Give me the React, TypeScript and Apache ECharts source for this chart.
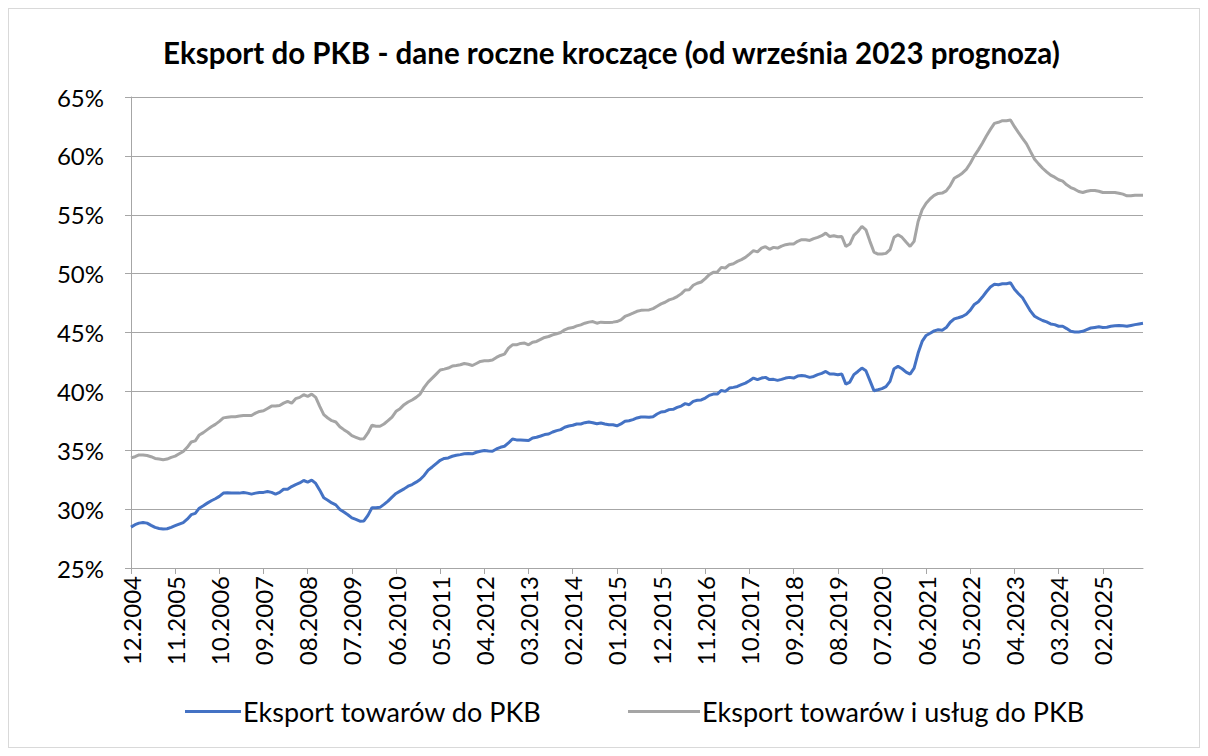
import React, { useEffect, useRef } from "react";
import * as echarts from "echarts";

// Monthly categories from 12.2004 to 12.2025
const START_YEAR = 2004;
const START_MONTH = 12;
const N_MONTHS = 253;
const categories: string[] = [];
for (let i = 0; i < N_MONTHS; i++) {
  const m0 = START_MONTH - 1 + i;
  const m = (m0 % 12) + 1;
  const y = START_YEAR + Math.floor(m0 / 12);
  categories.push(String(m).padStart(2, "0") + "." + y);
}

const seriesNames = ["Eksport towarów do PKB", "Eksport towarów i usług do PKB"];

// Eksport towarów do PKB (%)
const goods = [
  28.47, 28.68, 28.81, 28.86, 28.81, 28.62, 28.45, 28.36, 28.31, 28.33,
  28.45, 28.59, 28.73, 28.86, 29.15, 29.53, 29.64, 30.08, 30.29, 30.51,
  30.71, 30.88, 31.08, 31.36, 31.4, 31.36, 31.36, 31.36, 31.42, 31.36,
  31.27, 31.36, 31.42, 31.42, 31.5, 31.42, 31.27, 31.42, 31.69, 31.69,
  31.92, 32.08, 32.22, 32.43, 32.29, 32.46, 32.18, 31.61, 30.96, 30.76,
  30.53, 30.36, 29.97, 29.75, 29.52, 29.26, 29.13, 28.98, 29.0, 29.47,
  30.11, 30.11, 30.15, 30.4, 30.68, 31.02, 31.33, 31.53, 31.72, 31.95,
  32.09, 32.29, 32.52, 32.86, 33.31, 33.58, 33.87, 34.15, 34.3, 34.35,
  34.49, 34.57, 34.63, 34.7, 34.73, 34.7, 34.83, 34.92, 34.97, 34.94,
  34.92, 35.11, 35.25, 35.34, 35.62, 35.96, 35.88, 35.88, 35.85, 35.82,
  36.04, 36.1, 36.21, 36.33, 36.38, 36.55, 36.67, 36.75, 36.95, 37.06,
  37.12, 37.23, 37.23, 37.34, 37.4, 37.34, 37.25, 37.31, 37.23, 37.17,
  37.17, 37.08, 37.23, 37.46, 37.51, 37.6, 37.74, 37.82, 37.82, 37.8,
  37.85, 38.08, 38.25, 38.3, 38.45, 38.48, 38.64, 38.75, 38.96, 38.87,
  39.15, 39.24, 39.27, 39.43, 39.66, 39.77, 39.77, 40.08, 40.0, 40.28,
  40.34, 40.42, 40.57, 40.7, 40.9, 41.13, 41.0, 41.13, 41.19, 41.0,
  41.02, 40.93, 41.02, 41.13, 41.19, 41.13, 41.3, 41.35, 41.3, 41.19,
  41.27, 41.42, 41.53, 41.69, 41.47, 41.47, 41.42, 41.47, 40.62, 40.79,
  41.42, 41.69, 41.98, 41.75, 40.91, 40.06, 40.14, 40.23, 40.4, 40.85,
  41.92, 42.12, 41.92, 41.64, 41.47, 41.98, 43.25, 44.24, 44.75, 44.94,
  45.14, 45.23, 45.2, 45.42, 45.87, 46.16, 46.25, 46.36, 46.55, 46.9,
  47.38, 47.61, 48.01, 48.46, 48.86, 49.09, 49.05, 49.14, 49.14, 49.23,
  48.67, 48.29, 47.95, 47.38, 46.81, 46.38, 46.19, 46.02, 45.9, 45.73,
  45.67, 45.53, 45.53, 45.33, 45.1, 45.05, 45.05, 45.1, 45.25, 45.38,
  45.43, 45.48, 45.43, 45.45, 45.53, 45.57, 45.6, 45.57, 45.53, 45.6,
  45.67, 45.73, 45.78,
];

// Eksport towarów i usług do PKB (%)
const goodsServices = [
  34.35, 34.45, 34.6, 34.6, 34.55, 34.45, 34.3, 34.25, 34.2, 34.25,
  34.4, 34.5, 34.7, 34.9, 35.25, 35.7, 35.8, 36.3, 36.5, 36.75,
  37.0, 37.2, 37.45, 37.75, 37.8, 37.85, 37.85, 37.9, 37.95, 37.95,
  37.95, 38.15, 38.3, 38.35, 38.55, 38.75, 38.75, 38.8, 39.0, 39.15,
  39.0, 39.38, 39.49, 39.72, 39.58, 39.77, 39.49, 38.73, 38.02, 37.74,
  37.51, 37.4, 37.0, 36.75, 36.53, 36.24, 36.1, 35.96, 35.98, 36.47,
  37.12, 37.04, 37.04, 37.23, 37.51, 37.82, 38.31, 38.53, 38.87, 39.1,
  39.27, 39.49, 39.77, 40.34, 40.79, 41.13, 41.47, 41.81, 41.89, 41.98,
  42.15, 42.2, 42.26, 42.37, 42.3, 42.2, 42.37, 42.54, 42.6, 42.6,
  42.66, 42.88, 43.05, 43.16, 43.67, 43.95, 43.95, 44.07, 44.1, 43.95,
  44.18, 44.24, 44.41, 44.58, 44.66, 44.8, 44.89, 45.0, 45.23, 45.37,
  45.42, 45.56, 45.65, 45.79, 45.88, 45.93, 45.79, 45.88, 45.85, 45.85,
  45.88, 45.93, 46.07, 46.36, 46.5, 46.64, 46.8, 46.88, 46.9, 46.92,
  47.03, 47.23, 47.43, 47.57, 47.77, 47.88, 48.05, 48.28, 48.61, 48.63,
  49.01, 49.18, 49.29, 49.58, 49.92, 50.11, 50.14, 50.53, 50.48, 50.76,
  50.84, 51.04, 51.19, 51.38, 51.66, 51.95, 51.85, 52.17, 52.29, 52.06,
  52.23, 52.17, 52.34, 52.46, 52.51, 52.51, 52.74, 52.88, 52.88, 52.82,
  52.97, 53.08, 53.22, 53.44, 53.15, 53.22, 53.13, 53.15, 52.31, 52.51,
  53.25, 53.58, 54.01, 53.72, 52.74, 51.83, 51.66, 51.66, 51.72, 52.03,
  53.08, 53.3, 53.08, 52.68, 52.31, 52.74, 54.43, 55.42, 55.98, 56.36,
  56.64, 56.81, 56.84, 57.03, 57.48, 58.1, 58.3, 58.53, 58.85, 59.37,
  60.0, 60.51, 61.07, 61.69, 62.25, 62.76, 62.85, 62.99, 62.99, 63.04,
  62.48, 61.97, 61.49, 61.02, 60.36, 59.71, 59.32, 58.95, 58.64, 58.36,
  58.19, 57.97, 57.85, 57.54, 57.31, 57.17, 56.97, 56.89, 57.0, 57.06,
  57.06, 57.0, 56.89, 56.89, 56.89, 56.89, 56.83, 56.75, 56.61, 56.61,
  56.66, 56.66, 56.66,
];

const Y_MIN = 25;
const Y_MAX = 65;
const Y_STEP = 5;
const LABEL_EVERY = 11;

const FONT = "Lato, 'Open Sans', sans-serif";
const TEXT = "#000000";
const GRID = "#a6a6a6";
const BLUE = "#4472C4";
const GREY = "#A5A5A5";

export default function App() {
  const ref = useRef<HTMLDivElement>(null);

  useEffect(() => {
    if (!ref.current) return;
    const chart = echarts.init(ref.current, undefined, { renderer: "svg" });
    const legendText = { fontFamily: FONT, fontSize: 27, color: TEXT, padding: [0, 0, 0, -3] };
    chart.setOption({
      animation: false,
      backgroundColor: "#ffffff",
      title: {
        text: "Eksport do PKB - dane roczne kroczące (od września 2023 prognoza)",
        left: 149,
        top: 23,
        textStyle: { fontFamily: FONT, fontSize: 29.5, fontWeight: "bold", color: TEXT },
      },
      legend: [
        {
          bottom: 17,
          left: 171,
          icon: "rect",
          itemWidth: 56,
          itemHeight: 3,
          data: [seriesNames[0]],
          textStyle: legendText,
        },
        {
          bottom: 17,
          left: 614,
          icon: "rect",
          itemWidth: 72,
          itemHeight: 3,
          data: [seriesNames[1]],
          textStyle: legendText,
        },
      ],
      grid: { left: 122, top: 88, width: 1012, height: 471, containLabel: false },
      xAxis: {
        type: "category",
        data: categories,
        boundaryGap: false,
        axisLine: { show: true, lineStyle: { color: GRID, width: 1 } },
        axisTick: { show: true, interval: LABEL_EVERY - 1, length: 6, lineStyle: { color: GRID } },
        axisLabel: {
          interval: LABEL_EVERY - 1,
          rotate: 90,
          margin: 8,
          fontFamily: FONT,
          fontSize: 24,
          color: TEXT,
        },
        splitLine: { show: false },
      },
      yAxis: {
        type: "value",
        min: Y_MIN,
        max: Y_MAX,
        interval: Y_STEP,
        axisLine: { show: true, lineStyle: { color: GRID, width: 1 } },
        axisTick: { show: true, length: 6, lineStyle: { color: GRID } },
        axisLabel: {
          formatter: "{value}%",
          margin: 27,
          fontFamily: FONT,
          fontSize: 24,
          color: TEXT,
        },
        splitLine: { show: true, lineStyle: { color: GRID, width: 1 } },
      },
      series: [
        {
          name: seriesNames[0],
          type: "line",
          data: goods,
          showSymbol: false,
          symbol: "none",
          lineStyle: { color: BLUE, width: 3 },
          itemStyle: { color: BLUE },
        },
        {
          name: seriesNames[1],
          type: "line",
          data: goodsServices,
          showSymbol: false,
          symbol: "none",
          lineStyle: { color: GREY, width: 3 },
          itemStyle: { color: GREY },
        },
      ],
    });
    return () => chart.dispose();
  }, []);

  return (
    <div style={{ width: 1190, height: 738, border: "1px solid #d9d9d9", background: "#fff" }}>
      <div ref={ref} style={{ width: 1190, height: 738 }} />
    </div>
  );
}
